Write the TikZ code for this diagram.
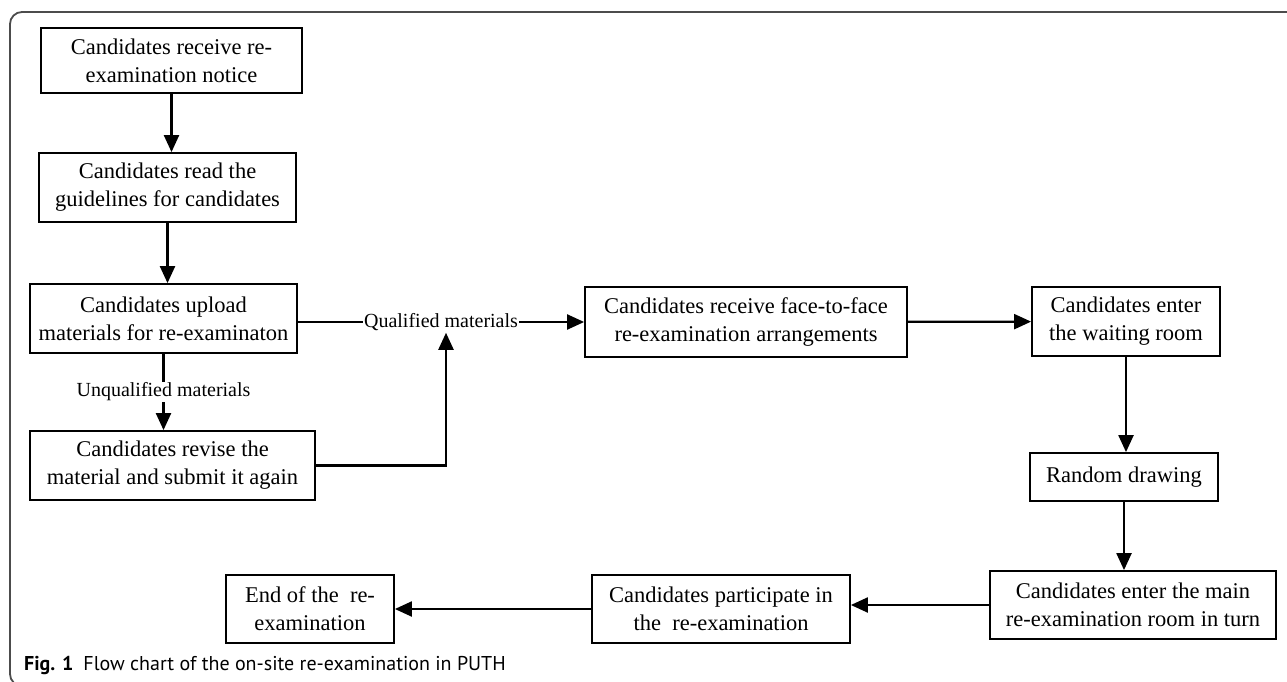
\documentclass[tikz,border=0pt]{standalone}
\usepackage{fontspec}
\setmainfont{Liberation Serif}
\newfontfamily\capfont{PT Sans}
\usetikzlibrary{arrows.meta}

\begin{document}
\begin{tikzpicture}[x=1pt,y=-1pt,
        box/.style={draw, line width=1.8pt, align=center, inner sep=2pt,
            font=\fontsize{22.5}{28}\selectfont},
        freccia/.style={line width=2.2pt, -{Triangle[length=17pt,width=15pt]}},
        etich/.style={fill=white, inner sep=1pt, font=\fontsize{20}{22}\selectfont}]

        % Riquadro della figura
        \useasboundingbox (0,0) rectangle (1287,682);
        \clip (0,0) rectangle (1287,682);
        \draw[line width=1.8pt, black!70, rounded corners=12pt] (1300,12) -- (10,12) -- (10,686) -- (60,686);

        % Colonna di sinistra
        \node[box, minimum width=261pt, minimum height=65pt] (avviso) at (171.5,60.5) {Candidates receive re-\\examination notice};
        \node[box, minimum width=257pt, minimum height=69pt] (guida) at (167.5,187.5) {Candidates read the\\guidelines for candidates};
        \node[box, minimum width=267pt, minimum height=69pt] (carica) at (163.5,318.5) {Candidates upload\\materials for re-examinaton};
        \node[box, minimum width=285pt, minimum height=69pt] (revisione) at (172.5,465.5) {Candidates revise the\\material and submit it again};

        % Riga in alto e colonna di destra
        \node[box, minimum width=322pt, minimum height=70pt] (arrang) at (746,322) {Candidates receive face-to-face\\re-examination arrangements};
        \node[box, minimum width=188pt, minimum height=69pt] (attesa) at (1126,321.5) {Candidates enter\\the waiting room};
        \node[box, minimum width=188pt, minimum height=48pt] (sorteggio) at (1124,477) {Random drawing};
        \node[box, minimum width=286pt, minimum height=68pt] (aula) at (1133,605) {Candidates enter the main\\re-examination room in turn};

        % Riga in basso
        \node[box, minimum width=258pt, minimum height=68pt] (prova) at (721,609) {Candidates participate in\\the~ re-examination};
        \node[box, minimum width=168pt, minimum height=68pt] (fine) at (310,609) {End of the~ re-\\examination};

        % Frecce
        \draw[freccia] (avviso.south) -- (avviso.south |- guida.north);
        \draw[freccia] (guida.south) -- (guida.south |- carica.north);
        \draw[freccia] (arrang.west -| carica.east) -- (arrang.west) node[etich, midway] (qual) {Qualified materials};
        \draw[freccia] (carica.south) -- (carica.south |- revisione.north) node[etich, midway] (nonqual) {Unqualified materials};
        \draw[freccia] (revisione.east) -| ([xshift=5pt]qual.south);
        \draw[freccia] (arrang) -- (attesa);
        \draw[freccia] (attesa.south) -- (attesa.south |- sorteggio.north);
        \draw[freccia] (sorteggio.south) -- (sorteggio.south |- aula.north);
        \draw[freccia] (aula.west) -- (aula.west -| prova.east);
        \draw[freccia] (prova.west) -- (prova.west -| fine.east);

        % Didascalia
        \node[anchor=base west, inner sep=0pt, font=\capfont\fontsize{20}{22}\selectfont] (didascalia) at (24,670) {\textbf{Fig. 1}\hspace{10pt}Flow chart of the on-site re-examination in PUTH};
    \end{tikzpicture}
\end{document}
